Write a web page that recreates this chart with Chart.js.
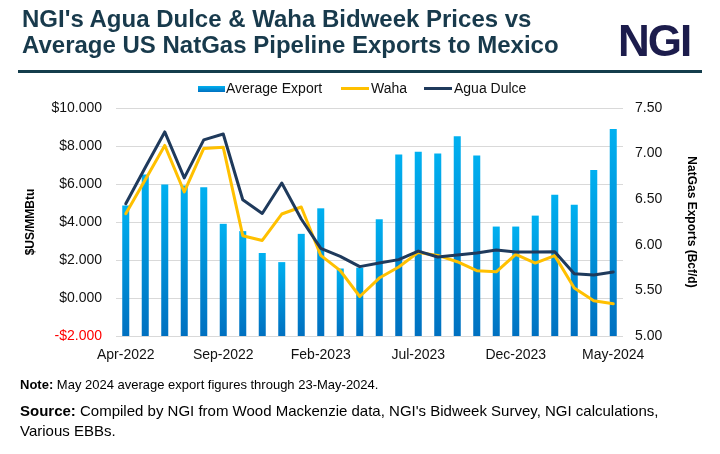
<!DOCTYPE html>
<html>
<head>
<meta charset="utf-8">
<script src="https://cdn.jsdelivr.net/npm/chart.js@4.4.1/dist/chart.umd.min.js"></script>
<style>
  body { margin: 0; background: #fff; font-family: 'Liberation Sans', Arial, sans-serif; }
  #page { position: relative; width: 720px; height: 454px; overflow: hidden; }
  #chart { position: absolute; left: 0; top: 0; }
  .title { position: absolute; left: 22px; top: 6px; font-weight: bold; font-size: 24px; line-height: 26px;
           color: #183a4c; white-space: nowrap; }
  .logo { position: absolute; left: 618px; top: 16px; font-weight: bold; font-size: 44px; line-height: 50px;
          letter-spacing: -2px; color: #1c1c4c; }
  .rule { position: absolute; left: 18px; top: 70px; width: 684px; height: 3px; background: #143d4c; }
  .legend { position: absolute; top: 80px; left: 0; width: 720px; height: 18px; font-size: 14px; color: #111; }
  .legend span { position: absolute; top: 0; line-height: 17px; }
  .legend i { position: absolute; display: block; }
  .note { position: absolute; left: 20px; top: 377px; font-size: 13px; line-height: 15px; color: #000; white-space: nowrap; }
  .source { position: absolute; left: 20px; top: 401px; font-size: 15px; line-height: 20px; color: #000; white-space: nowrap; }
</style>
</head>
<body>
<div id="page">
  <canvas id="chart" width="720" height="454"></canvas>
  <div class="title">NGI's Agua Dulce &amp; Waha Bidweek Prices vs<br>Average US NatGas Pipeline Exports to Mexico</div>
  <div class="logo">NGI</div>
  <div class="rule"></div>
  <div class="legend">
    <i style="left:198px;top:6px;width:27px;height:6px;background:linear-gradient(#00b0f0,#0070c0);"></i>
    <span style="left:226px;">Average Export</span>
    <i style="left:341px;top:7px;width:28px;height:3px;background:#ffc000;"></i>
    <span style="left:371px;">Waha</span>
    <i style="left:424px;top:7px;width:28px;height:3px;background:#1f3a5c;"></i>
    <span style="left:454px;">Agua Dulce</span>
  </div>
  <div class="note"><b>Note:</b> May 2024 average export figures through 23-May-2024.</div>
  <div class="source"><b>Source:</b> Compiled by NGI from Wood Mackenzie data, NGI's Bidweek Survey, NGI calculations,<br>Various EBBs.</div>
</div>
<script>
// months Apr-2022 .. May-2024
const months = ['Apr-2022', 'May-2022', 'Jun-2022', 'Jul-2022', 'Aug-2022', 'Sep-2022', 'Oct-2022', 'Nov-2022',
  'Dec-2022', 'Jan-2023', 'Feb-2023', 'Mar-2023', 'Apr-2023', 'May-2023', 'Jun-2023', 'Jul-2023', 'Aug-2023',
  'Sep-2023', 'Oct-2023', 'Nov-2023', 'Dec-2023', 'Jan-2024', 'Feb-2024', 'Mar-2024', 'Apr-2024', 'May-2024'];

// Bcf/d, right axis
const avgExport = [6.43, 6.77, 6.66, 6.65, 6.63, 6.23, 6.15, 5.91, 5.81, 6.12, 6.40, 5.74, 5.75,
  6.28, 6.99, 7.02, 7.00, 7.19, 6.98, 6.20, 6.20, 6.32, 6.55, 6.44, 6.82, 7.27];

// $US/MMBtu, left axis
const waha = [4.44, 6.23, 8.03, 5.58, 7.87, 7.93, 3.28, 3.03, 4.42, 4.79, 2.24, 1.44, 0.08,
  1.05, 1.63, 2.40, 2.24, 1.91, 1.44, 1.38, 2.30, 1.84, 2.23, 0.53, -0.14, -0.30];
const aguaDulce = [4.96, 6.87, 8.74, 6.32, 8.32, 8.63, 5.17, 4.45, 6.05, 4.16, 2.61, 2.19, 1.65,
  1.84, 2.02, 2.47, 2.16, 2.26, 2.37, 2.53, 2.42, 2.42, 2.44, 1.28, 1.21, 1.37];

Chart.defaults.font.family = "'Liberation Sans', Arial, sans-serif";
Chart.defaults.color = '#111';

// each bar gets its own top-to-bottom gradient like the Excel original
function barGradient(c) {
    const area = c.chart.chartArea;
    if (!area || c.raw == null) return '#00b0f0';
    const top = c.chart.scales.y1.getPixelForValue(c.raw);
    const g = c.chart.ctx.createLinearGradient(0, top, 0, area.bottom);
    g.addColorStop(0, '#00b0f0');
    g.addColorStop(1, '#0070c0');
    return g;
}

new Chart(document.getElementById('chart'), {
    type: 'bar',
    data: {
        labels: months,
        datasets: [
            {
                type: 'line', label: 'Agua Dulce', data: aguaDulce, yAxisID: 'y',
                borderColor: '#1f3a5c', borderWidth: 3, pointRadius: 0, tension: 0, order: 1,
                borderJoinStyle: 'round', borderCapStyle: 'round',
            },
            {
                type: 'line', label: 'Waha', data: waha, yAxisID: 'y',
                borderColor: '#ffc000', borderWidth: 3, pointRadius: 0, tension: 0, order: 2,
                borderJoinStyle: 'round', borderCapStyle: 'round',
            },
            {
                label: 'Average Export', data: avgExport, yAxisID: 'y1', base: 5,
                backgroundColor: barGradient, categoryPercentage: 1, barPercentage: 0.36, order: 3,
            },
        ],
    },
    options: {
        responsive: false,
        animation: false,
        layout: { padding: { top: 108, left: 0, right: 0, bottom: 0 } },
        plugins: { legend: { display: false }, tooltip: { enabled: false } },
        scales: {
            x: {
                grid: { display: false },
                border: { display: false },
                ticks: {
                    autoSkip: false, maxRotation: 0, padding: 3,
                    font: { size: 14 }, color: '#111',
                    callback: function (v, i) { return i % 5 === 0 ? months[i] : ''; },
                },
                afterFit: function (s) { s.height = 118; },
            },
            y: {
                position: 'left', min: -2, max: 10,
                grid: { color: '#d9d9d9', drawTicks: false },
                border: { display: false },
                ticks: {
                    stepSize: 2, padding: 14, font: { size: 14 },
                    color: function (c) { return c.tick.value < 0 ? '#ff0000' : '#111'; },
                    callback: function (v) { return (v < 0 ? '-$' : '$') + Math.abs(v).toFixed(3); },
                },
                title: { display: true, text: '$US/MMBtu', font: { size: 12, weight: 'bold' }, color: '#000', padding: { top: 23 } },
                afterFit: function (s) { s.width = 116; },
            },
            y1: {
                position: 'right', min: 5, max: 7.5,
                grid: { display: false },
                border: { display: false },
                ticks: {
                    stepSize: 0.5, padding: 4, font: { size: 14 }, color: '#111',
                    callback: function (v) { return v.toFixed(2); },
                },
                title: { display: true, text: 'NatGas Exports (Bcf/d)', font: { size: 12, weight: 'bold' }, color: '#000', padding: { top: 21 } },
                afterFit: function (s) { s.width = 97; },
            },
        },
    },
});
</script>
</body>
</html>
